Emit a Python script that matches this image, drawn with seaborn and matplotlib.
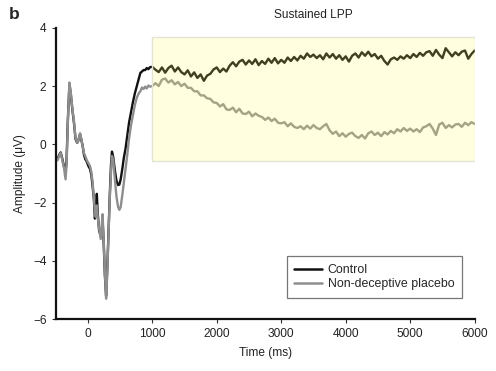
import numpy as np
import pandas as pd
import matplotlib
matplotlib.use("Agg")
import matplotlib.pyplot as plt
import seaborn as sns
from matplotlib.patches import Rectangle

# ---- data ----
early_time = [-500, -470, -440, -420, -395, -370, -345, -330, -310, -285,
              -265, -240, -215, -190, -165, -145, -120, -100, -80, -60,
              -40, -15, 10, 35, 55, 75, 95, 110, 125, 140,
              155, 175, 200, 215, 228, 245, 265, 284, 300, 320,
              340, 360, 375, 395, 420, 445, 470, 490, 510, 535,
              560, 585, 610, 640, 670, 700, 730, 760, 790, 815,
              840, 865, 890, 915, 940, 965]
early_control = [-0.45, -0.50, -0.35, -0.28, -0.50, -0.75, -0.95, -0.60, 0.80, 2.05,
                 1.75, 1.20, 0.75, 0.18, 0.05, 0.15, 0.35, 0.15, -0.05, -0.35,
                 -0.50, -0.60, -0.75, -0.85, -1.05, -1.45, -1.90, -2.55, -2.35, -1.70,
                 -2.40, -2.95, -3.15, -3.00, -2.55, -3.30, -4.50, -5.20, -4.40, -3.10,
                 -1.80, -0.70, -0.25, -0.45, -0.90, -1.25, -1.40, -1.38, -1.20, -0.85,
                 -0.45, -0.15, 0.25, 0.75, 1.10, 1.45, 1.75, 2.00, 2.25, 2.45,
                 2.50, 2.55, 2.55, 2.62, 2.58, 2.65]
early_placebo = [-0.50, -0.55, -0.38, -0.30, -0.55, -0.80, -1.20, -0.70, 0.70, 2.12,
                 1.80, 1.25, 0.80, 0.22, 0.05, 0.12, 0.38, 0.18, -0.05, -0.30,
                 -0.40, -0.55, -0.65, -0.75, -0.95, -1.30, -1.85, -2.30, -2.50, -2.10,
                 -2.55, -2.85, -3.25, -2.90, -2.40, -3.20, -4.40, -5.30, -4.50, -3.20,
                 -1.90, -0.95, -0.40, -0.55, -1.20, -1.80, -2.15, -2.25, -2.15, -1.75,
                 -1.30, -0.85, -0.40, 0.20, 0.65, 1.00, 1.35, 1.60, 1.75, 1.82,
                 1.95, 1.90, 1.98, 1.92, 2.02, 1.98]

late_time = list(range(1000, 6001, 50))
late_control = [2.66, 2.56, 2.48, 2.64, 2.46, 2.62, 2.70, 2.50, 2.64, 2.48,
                2.40, 2.54, 2.33, 2.47, 2.28, 2.40, 2.18, 2.36, 2.42, 2.57,
                2.64, 2.48, 2.60, 2.50, 2.70, 2.82, 2.68, 2.84, 2.90, 2.74,
                2.88, 2.76, 2.92, 2.72, 2.86, 2.76, 2.94, 2.80, 2.96, 2.78,
                2.90, 2.80, 2.98, 2.86, 3.00, 2.88, 3.04, 2.94, 3.12, 3.00,
                3.08, 2.96, 3.06, 2.92, 3.12, 2.98, 3.10, 2.94, 3.06, 2.90,
                3.02, 2.84, 3.04, 3.12, 2.98, 3.16, 3.04, 3.18, 3.02, 3.10,
                2.94, 3.04, 2.86, 2.74, 2.92, 2.98, 2.90, 3.02, 2.94, 3.06,
                2.96, 3.10, 3.00, 3.14, 3.04, 3.16, 3.20, 3.04, 3.24, 3.08,
                2.96, 3.30, 3.16, 3.02, 3.16, 3.06, 3.18, 3.22, 2.94, 3.10,
                3.22]
late_placebo = [2.00, 2.10, 2.00, 2.22, 2.26, 2.12, 2.20, 2.06, 2.14, 2.00,
                2.08, 1.94, 1.94, 1.82, 1.82, 1.68, 1.68, 1.58, 1.56, 1.44,
                1.42, 1.30, 1.38, 1.20, 1.18, 1.26, 1.10, 1.22, 1.06, 1.04,
                1.12, 0.96, 1.06, 0.98, 0.94, 0.84, 0.92, 0.80, 0.88, 0.74,
                0.72, 0.76, 0.62, 0.72, 0.60, 0.56, 0.62, 0.52, 0.64, 0.54,
                0.66, 0.56, 0.52, 0.62, 0.70, 0.48, 0.36, 0.44, 0.28, 0.38,
                0.26, 0.36, 0.40, 0.28, 0.22, 0.32, 0.20, 0.38, 0.44, 0.32,
                0.40, 0.28, 0.42, 0.34, 0.46, 0.38, 0.52, 0.44, 0.56, 0.46,
                0.54, 0.44, 0.52, 0.42, 0.58, 0.62, 0.70, 0.54, 0.32, 0.68,
                0.74, 0.56, 0.66, 0.58, 0.68, 0.70, 0.60, 0.74, 0.66, 0.76,
                0.70]

conditions = ["Control", "Non-deceptive placebo"]
x_ticks = [0, 1000, 2000, 3000, 4000, 5000, 6000]
y_ticks = [-6, -4, -2, 0, 2, 4]
lpp_window = (1000, 6000)
lpp_range = (-0.56, 3.70)

# ---- build long-form table ----
time_all = early_time + late_time
df = pd.DataFrame({
    "Time (ms)": time_all * 2,
    "Amplitude": early_control + late_control + early_placebo + late_placebo,
    "Condition": [conditions[0]] * len(time_all) + [conditions[1]] * len(time_all),
})

sns.set_style("ticks")
plt.rcParams["font.family"] = ["Liberation Sans", "DejaVu Sans"]

fs = 8.6
fig = plt.figure(figsize=(4.96, 3.71), dpi=100)
ax = fig.add_axes([0.112, 0.140, 0.845, 0.785])

sns.lineplot(data=df, x="Time (ms)", y="Amplitude", hue="Condition",
             hue_order=conditions, palette=["#111111", "#8e8e8e"],
             linewidth=1.7, ax=ax, estimator=None, sort=True, zorder=2)

# shaded LPP window drawn on top, semi-transparent
ax.add_patch(Rectangle((lpp_window[0], lpp_range[0]),
                       lpp_window[1] - lpp_window[0], lpp_range[1] - lpp_range[0],
                       facecolor="#ffff60", alpha=0.2, edgecolor="none", zorder=3))
ax.add_patch(Rectangle((lpp_window[0], lpp_range[0]),
                       lpp_window[1] - lpp_window[0], lpp_range[1] - lpp_range[0],
                       facecolor="none", edgecolor="#e4e4d4", linewidth=1.0, zorder=3))
ax.text((lpp_window[0] + lpp_window[1]) / 2, 4.22, "Sustained LPP",
        ha="center", va="bottom", fontsize=fs, color="#222222", clip_on=False)

ax.set_xlim(-500, 6000)
ax.set_ylim(-6, 4)
ax.set_xticks(x_ticks)
ax.set_yticks(y_ticks)
ax.set_xticklabels([str(v) for v in x_ticks])
ax.set_yticklabels([("\u2212" + str(-v)) if v < 0 else str(v) for v in y_ticks])
ax.tick_params(axis="both", labelsize=fs, length=3, width=0.8, color="#333333",
               labelcolor="#222222", direction="out")
ax.set_xlabel("Time (ms)", fontsize=fs, color="#222222", labelpad=5)
ax.set_ylabel("Amplitude (\u03bcV)", fontsize=fs, color="#222222", labelpad=5)

for side in ["top", "right"]:
    ax.spines[side].set_visible(False)
for side in ["left", "bottom"]:
    ax.spines[side].set_linewidth(1.6)
    ax.spines[side].set_color("#111111")

leg = ax.legend(loc="lower left", bbox_to_anchor=(0.552, 0.073), fontsize=fs + 0.3,
                frameon=True, fancybox=False, handlelength=2.2, borderpad=0.6,
                labelspacing=0.2, handletextpad=0.5, borderaxespad=0)
leg.get_frame().set_edgecolor("#555555")
leg.get_frame().set_linewidth(0.9)
for line in leg.get_lines():
    line.set_linewidth(1.8)
leg.set_zorder(5)

fig.text(0.018, 0.962, "b", fontsize=12.5, fontweight="bold", ha="left", va="center")

fig.savefig("out.png", dpi=100)
